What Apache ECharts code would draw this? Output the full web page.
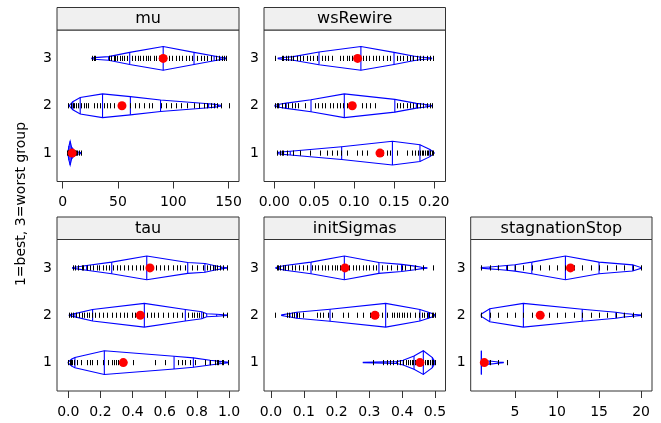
<!DOCTYPE html>
<html>
<head>
<meta charset="utf-8">
<script src="https://cdn.jsdelivr.net/npm/echarts@6/dist/echarts.min.js"></script>
<style>
    html, body {margin:0;padding:0;background:#ffffff;}
    #main {width:661px;height:423px;}
</style>
</head>
<body>
<div id="main"></div>
<script>
    // groups: index 0 -> level 1 (best), 2 -> level 3 (worst)
    var groupLevels = [1, 2, 3];

    // mu
    var muNodeX = [
        [4.8, 5.6, 6.7, 8, 10, 13, 16.5],
        [6.0, 9.1, 15.8, 36.0, 61.2, 88.5, 132, 138, 141, 143.5],
        [26.4, 28.5, 41.5, 60.6, 90.9, 118.8, 137, 143, 147.6]
    ];
    var muNodeW = [
        [0.15, 0.6, 1.0, 0.5, 0.25, 0.1, 0.03],
        [0.03, 0.34, 0.7, 1.0, 0.77, 0.49, 0.17, 0.12, 0.07, 0.02],
        [0.03, 0.07, 0.15, 0.51, 1.0, 0.51, 0.2, 0.1, 0.03]
    ];
    var muRug = [
        [4, 4.5, 5, 5.4, 5.8, 6.1, 6.4, 6.7, 7, 7.3, 7.7, 8.1, 8.6, 9.1, 9.7, 10.4, 11.2, 12.1, 13.3, 14.8, 16.4],
        [5.2, 7.3, 9.1, 10.3, 12.1, 14.2, 16.4, 18.8, 21.2, 23.3, 27.9, 30.9, 34.0, 37.0, 40.0, 43.0, 46.1, 61.2, 65.8, 68.8,
         73.3, 77.9, 80.9, 88.5, 93.0, 97.6, 102.1, 106.7, 112.7, 118.8, 123.3, 127.9, 130.9, 133.9, 137.0, 140.0, 143.0, 150.6],
        [26.4, 27.9, 29.4, 41.5, 43.9, 46.0, 47.6, 49.1, 52.1, 53.6, 55.8, 58.2, 62.7, 65.8, 67.9, 70.3, 72.7, 74.9, 77.0, 79.4,
         82.4, 84.8, 87.0, 89.1, 93.0, 96.1, 99.1, 102.1, 105.1, 108.2, 111.2, 114.2, 117.3, 121.8, 124.8, 127.9, 130.9, 133.9,
         138.5, 141.5, 144.5, 146.1, 147.6]
    ];
    var muMean = [8.5, 53.6, 90.9];
    var muTicks = [0, 50, 100, 150];

    // wsRewire
    var wsNodeX = [
        [0.004, 0.008, 0.02, 0.0844, 0.148, 0.1825, 0.195, 0.2],
        [0.001, 0.006, 0.015, 0.046, 0.0877, 0.151, 0.178, 0.19, 0.197],
        [0.005, 0.011, 0.024, 0.056, 0.1085, 0.150, 0.174, 0.1825, 0.197]
    ];
    var wsNodeW = [
        [0.04, 0.09, 0.16, 0.54, 1.0, 0.71, 0.3, 0.04],
        [0.04, 0.12, 0.22, 0.51, 1.0, 0.54, 0.2, 0.1, 0.03],
        [0.03, 0.08, 0.15, 0.54, 1.0, 0.51, 0.2, 0.12, 0.03]
    ];
    var wsRug = [
        [0.0037, 0.0071, 0.0092, 0.0113, 0.0154, 0.0238, 0.0321, 0.0447, 0.0572, 0.0655, 0.0718, 0.0781, 0.0831, 0.0906,
         0.1031, 0.1094, 0.1156, 0.1282, 0.1365, 0.1407, 0.1449, 0.1532, 0.1657, 0.1720, 0.1762, 0.1804, 0.1825, 0.1845,
         0.1866, 0.1887, 0.1908, 0.1929, 0.1950, 0.1971, 0.1991],
        [0.0008, 0.0029, 0.0050, 0.0092, 0.0134, 0.0175, 0.0217, 0.0259, 0.0300, 0.0384, 0.0509, 0.0551, 0.0593, 0.0634,
         0.0697, 0.0739, 0.0781, 0.0822, 0.0864, 0.0906, 0.1094, 0.1148, 0.1198, 0.1261, 0.1532, 0.1574, 0.1616, 0.1657,
         0.1699, 0.1741, 0.1783, 0.1825, 0.1866, 0.1908, 0.1950, 0.1971],
        [0.0008, 0.0092, 0.0113, 0.0146, 0.0175, 0.0204, 0.0238, 0.0280, 0.0321, 0.0363, 0.0405, 0.0447, 0.0488, 0.0530,
         0.0593, 0.0634, 0.0676, 0.0718, 0.0822, 0.0864, 0.0906, 0.0939, 0.0969, 0.0998, 0.1023, 0.1115, 0.1148, 0.1190,
         0.1232, 0.1273, 0.1315, 0.1357, 0.1407, 0.1449, 0.1532, 0.1574, 0.1616, 0.1657, 0.1699, 0.1741, 0.1783, 0.1825,
         0.1866, 0.1908, 0.1950, 0.1991]
    ];
    var wsMean = [0.1324, 0.0977, 0.1044];
    var wsTicks = [0, 0.05, 0.1, 0.15, 0.2];

    // tau
    var tauNodeX = [
        [0.0, 0.021, 0.041, 0.224, 0.658, 0.778, 0.882, 0.944, 0.996],
        [0.006, 0.041, 0.151, 0.473, 0.728, 0.83, 0.861, 0.923, 0.985],
        [0.027, 0.062, 0.114, 0.27, 0.488, 0.743, 0.85, 0.913, 0.954, 0.985]
    ];
    var tauNodeW = [
        [0.05, 0.3, 0.43, 1.0, 0.54, 0.4, 0.2, 0.1, 0.02],
        [0.03, 0.14, 0.49, 1.0, 0.49, 0.29, 0.12, 0.08, 0.03],
        [0.03, 0.1, 0.2, 0.49, 1.0, 0.46, 0.37, 0.18, 0.08, 0.02]
    ];
    var tauRug = [
        [0.0, 0.010, 0.017, 0.025, 0.035, 0.052, 0.077, 0.114, 0.135, 0.145, 0.176, 0.218, 0.249, 0.270, 0.284, 0.297, 0.311,
         0.326, 0.338, 0.405, 0.540, 0.602, 0.685, 0.705, 0.726, 0.757, 0.788, 0.851, 0.882, 0.913, 0.923, 0.934, 0.954,
         0.965, 0.996],
        [0.006, 0.015, 0.027, 0.048, 0.069, 0.083, 0.098, 0.114, 0.131, 0.145, 0.166, 0.193, 0.218, 0.243, 0.270, 0.297,
         0.322, 0.347, 0.367, 0.394, 0.415, 0.436, 0.488, 0.513, 0.533, 0.560, 0.591, 0.622, 0.649, 0.674, 0.705, 0.747,
         0.768, 0.782, 0.799, 0.815, 0.840, 0.965, 0.985],
        [0.027, 0.041, 0.062, 0.083, 0.093, 0.114, 0.135, 0.156, 0.176, 0.193, 0.214, 0.234, 0.255, 0.280, 0.301, 0.322,
         0.347, 0.373, 0.394, 0.421, 0.446, 0.467, 0.546, 0.571, 0.596, 0.622, 0.654, 0.674, 0.695, 0.726, 0.768, 0.799,
         0.840, 0.861, 0.882, 0.898, 0.913, 0.927, 0.944, 0.961, 0.985]
    ];
    var tauMean = [0.342, 0.448, 0.508];
    var tauTicks = [0, 0.2, 0.4, 0.6, 0.8, 1.0];

    // initSigmas
    var sigNodeX = [
        [0.2815, 0.383, 0.403, 0.436, 0.4644, 0.492, 0.5],
        [0.0325, 0.058, 0.078, 0.18, 0.3496, 0.454, 0.48, 0.493, 0.5],
        [0.0153, 0.027, 0.043, 0.122, 0.2236, 0.329, 0.398, 0.439, 0.4594, 0.475]
    ];
    var sigNodeW = [
        [0.02, 0.08, 0.2, 0.56, 1.0, 0.43, 0.05],
        [0.03, 0.15, 0.25, 0.51, 1.0, 0.49, 0.25, 0.12, 0.03],
        [0.03, 0.12, 0.2, 0.49, 1.0, 0.46, 0.3, 0.15, 0.06, 0.02]
    ];
    var sigRug = [
        [0.312, 0.3425, 0.3527, 0.3628, 0.3730, 0.3832, 0.3933, 0.4035, 0.4116, 0.4187, 0.4238, 0.4289, 0.4340, 0.4390,
         0.4441, 0.4492, 0.4543, 0.4594, 0.4644, 0.4695, 0.4746, 0.4797, 0.4848, 0.4899, 0.4949, 0.5000],
        [0.0122, 0.0478, 0.0559, 0.0630, 0.0701, 0.0783, 0.0864, 0.0986, 0.1393, 0.1494, 0.1596, 0.1748, 0.1850, 0.2206,
         0.2358, 0.2612, 0.2815, 0.3019, 0.3273, 0.3374, 0.3527, 0.3679, 0.3750, 0.3832, 0.3913, 0.3984, 0.4055, 0.4136,
         0.4238, 0.4390, 0.4523, 0.4594, 0.4665, 0.4746, 0.4827, 0.4899, 0.4949, 0.5000],
        [0.0173, 0.0224, 0.0275, 0.0356, 0.0427, 0.0529, 0.0630, 0.0732, 0.0864, 0.0986, 0.1108, 0.1240, 0.1342, 0.1443,
         0.1545, 0.1647, 0.1748, 0.1850, 0.1951, 0.2023, 0.2104, 0.2307, 0.2388, 0.2490, 0.2592, 0.2693, 0.2795, 0.2897,
         0.2998, 0.3100, 0.3201, 0.3374, 0.3527, 0.3649, 0.3832, 0.3984, 0.4086, 0.4238, 0.4390, 0.4644, 0.4929]
    ];
    var sigMean = [0.454, 0.317, 0.2256];
    var sigTicks = [0, 0.1, 0.2, 0.3, 0.4, 0.5];

    // stagnationStop
    var stagNodeX = [
        [1, 1, 2, 3, 3.6],
        [1, 2, 6, 13, 17, 18, 19, 20],
        [1, 2, 3, 4, 5, 7, 11, 15, 19, 20]
    ];
    var stagNodeW = [
        [1.0, 0.13, 0.13, 0.05, 0.02],
        [0.1, 0.55, 1.0, 0.51, 0.26, 0.15, 0.08, 0.03],
        [0.03, 0.08, 0.14, 0.2, 0.27, 0.49, 1.0, 0.49, 0.26, 0.03]
    ];
    var stagRug = [
        [1, 2, 3, 4],
        [1, 2, 3, 4, 5, 6, 7, 8, 9, 10, 11, 12, 13, 14, 15, 16, 17, 18, 19, 20],
        [1, 2, 3, 4, 5, 6, 7, 8, 9, 10, 11, 12, 13, 14, 15, 16, 17, 18, 19, 20]
    ];
    var stagMean = [1.35, 8.0, 11.6];
    var stagTicks = [5, 10, 15, 20];

    var panels = [
        {name: 'mu', nodeX: muNodeX, nodeW: muNodeW, rug: muRug, mean: muMean, ticks: muTicks, digits: 0,
            min: -5.2, max: 159.5, left: 57, top: 30, width: 182},
        {name: 'wsRewire', nodeX: wsNodeX, nodeW: wsNodeW, rug: wsRug, mean: wsMean, ticks: wsTicks, digits: 2,
            min: -0.0129, max: 0.2145, left: 264, top: 30, width: 181.5},
        {name: 'tau', nodeX: tauNodeX, nodeW: tauNodeW, rug: tauRug, mean: tauMean, ticks: tauTicks, digits: 1,
            min: -0.0705, max: 1.062, left: 57, top: 239.5, width: 182},
        {name: 'initSigmas', nodeX: sigNodeX, nodeW: sigNodeW, rug: sigRug, mean: sigMean, ticks: sigTicks, digits: 1,
            min: -0.0213, max: 0.532, left: 264, top: 239.5, width: 181.5},
        {name: 'stagnationStop', nodeX: stagNodeX, nodeW: stagNodeW, rug: stagRug, mean: stagMean, ticks: stagTicks, digits: 0,
            min: -0.27, max: 21.3, left: 470.7, top: 239.5, width: 181.3}
    ];

    var FONT = 'DejaVu Sans';
    var PANEL_H = 151.5;
    var STRIP_H = 22.5;
    var HALF = 0.25;      // max half width of a violin, in y units
    var RUG_HALF = 0.055; // half height of the rug ticks

    function violinItem(p) {
        return function (params, api) {
            var g = api.value(0);
            var level = groupLevels[g];
            var xs = p.nodeX[g], ws = p.nodeW[g];
            var top = [], bot = [], children = [];
            for (var i = 0; i < xs.length; i++) {
                top.push(api.coord([xs[i], level + ws[i] * HALF]));
                bot.push(api.coord([xs[i], level - ws[i] * HALF]));
            }
            children.push({
                type: 'polygon',
                shape: {points: top.concat(bot.slice().reverse())},
                style: {fill: 'none', stroke: '#0000FF', lineWidth: 1.1}
            });
            for (var j = 0; j < xs.length; j++) {
                children.push({
                    type: 'line',
                    shape: {x1: top[j][0], y1: top[j][1], x2: bot[j][0], y2: bot[j][1]},
                    style: {stroke: '#0000FF', lineWidth: 1.1}
                });
            }
            // rug of single values, snapped to pixel centres
            p.rug[g].forEach(function (v) {
                var u = api.coord([v, level + RUG_HALF]);
                var d = api.coord([v, level - RUG_HALF]);
                var x = Math.round(u[0]) + 0.5;
                children.push({
                    type: 'line',
                    shape: {x1: x, y1: u[1], x2: x, y2: d[1]},
                    style: {stroke: '#000000', lineWidth: 1}
                });
            });
            return {type: 'group', children: children};
        };
    }

    var grids = [], xAxes = [], yAxes = [], series = [], graphics = [];

    panels.forEach(function (p, k) {
        grids.push({
            left: p.left, top: p.top, width: p.width, height: PANEL_H,
            show: true, borderColor: '#333333', borderWidth: 1, backgroundColor: 'transparent',
            outerBoundsMode: 'none'
        });
        xAxes.push({
            gridIndex: k, type: 'value', min: p.min, max: p.max,
            splitLine: {show: false},
            axisLine: {show: false, onZero: false},
            axisTick: {show: true, length: 7, customValues: p.ticks, lineStyle: {color: '#333333'}},
            axisLabel: {
                customValues: p.ticks, margin: 14, color: '#000000', fontFamily: FONT, fontSize: 14,
                formatter: (function (d) { return function (v) { return v.toFixed(d); }; })(p.digits)
            }
        });
        yAxes.push({
            gridIndex: k, type: 'value', min: 0.4, max: 3.6,
            splitLine: {show: false},
            axisLine: {show: false, onZero: false},
            axisTick: {show: false},
            axisLabel: {customValues: groupLevels, margin: 5, color: '#000000', fontFamily: FONT, fontSize: 14}
        });
        series.push({
            type: 'custom', xAxisIndex: k, yAxisIndex: k, silent: true,
            renderItem: violinItem(p),
            data: [[0], [1], [2]]
        });
        series.push({
            type: 'scatter', xAxisIndex: k, yAxisIndex: k, silent: true, z: 5,
            symbol: 'circle', symbolSize: 9,
            itemStyle: {color: '#FF0000', opacity: 1},
            data: p.mean.map(function (m, g) { return [m, groupLevels[g]]; })
        });
        // strip with panel name
        graphics.push({
            type: 'rect',
            shape: {x: p.left, y: p.top - STRIP_H, width: p.width, height: STRIP_H},
            style: {fill: '#F0F0F0', stroke: '#333333', lineWidth: 1}
        });
        graphics.push({
            type: 'text',
            x: p.left + p.width / 2, y: p.top - STRIP_H / 2 + 0.5,
            style: {text: p.name, fontFamily: FONT, fontSize: 16, fill: '#000000', align: 'center', verticalAlign: 'middle'}
        });
    });

    graphics.push({
        type: 'text',
        x: 21.5, y: 204, rotation: Math.PI / 2,
        style: {text: '1=best, 3=worst group', fontFamily: FONT, fontSize: 14, fill: '#000000',
            align: 'center', verticalAlign: 'middle'}
    });

    var chart = echarts.init(document.getElementById('main'), null, {renderer: 'canvas'});
    chart.setOption({
        animation: false,
        backgroundColor: '#ffffff',
        grid: grids,
        xAxis: xAxes,
        yAxis: yAxes,
        series: series,
        graphic: graphics
    });
</script>
</body>
</html>
